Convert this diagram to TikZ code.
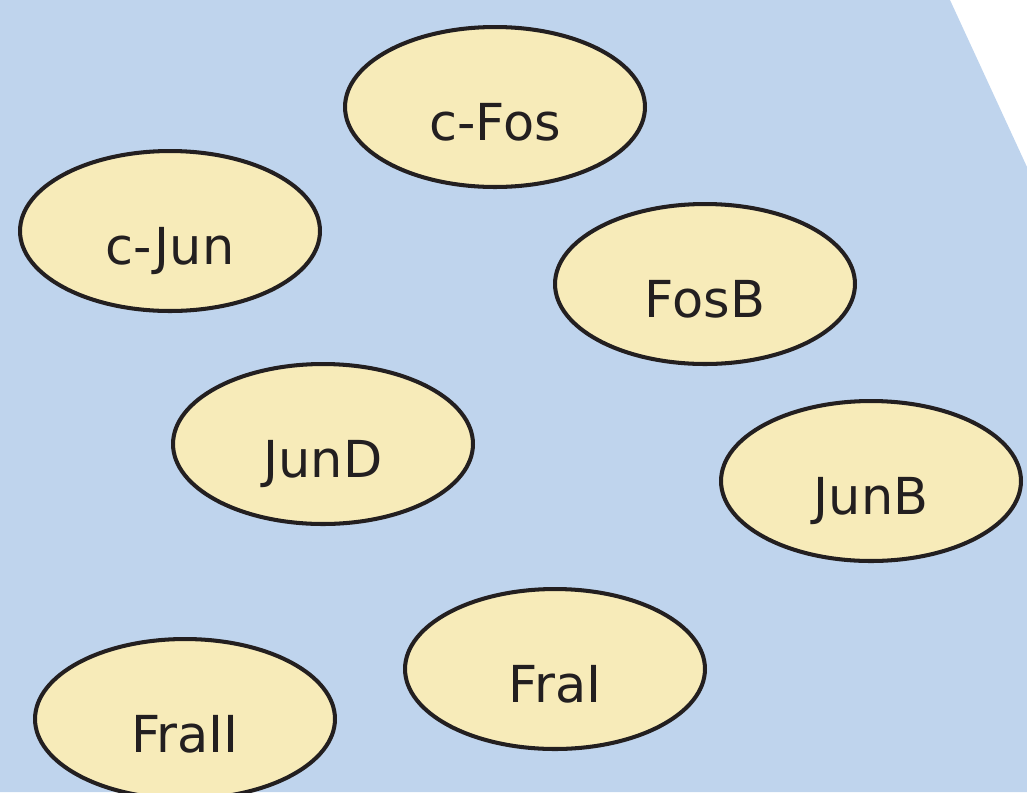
\documentclass[tikz,border=0pt]{standalone}
\usepackage{fontspec}
\setmainfont{DejaVu Sans}
\usetikzlibrary{shapes.geometric}
\definecolor{cellblue}{RGB}{191,212,237}
\definecolor{protfill}{RGB}{247,235,185}
\definecolor{protline}{RGB}{35,31,32}
\tikzset{
  protein/.style={ellipse,draw=protline,fill=protfill,line width=2.3pt,
    minimum width=6cm,minimum height=3.2cm,inner sep=0pt,
    text height=1.34cm,text depth=0pt,
    font=\fontsize{29}{35}\selectfont,text=protline}
}
\begin{document}
\begin{tikzpicture}[x=0.02cm,y=-0.02cm]
\useasboundingbox (0,0) rectangle (1027,792);
\clip (0,0) rectangle (1027,792);
\fill[cellblue] (0,0) -- (950,0) -- (1027,167) -- (1027,792) -- (0,792) -- cycle;
\node[protein] (cfos) at (495,107) {c-Fos};
\node[protein] (cjun) at (170,231) {c-Jun};
\node[protein] (fosb) at (705,284) {FosB};
\node[protein] (jund) at (323,444) {JunD};
\node[protein] (junb) at (871,481) {JunB};
\node[protein] (fra1) at (555,669) {FraI};
\node[protein] (fra2) at (185,719) {FraII};
\end{tikzpicture}
\end{document}
